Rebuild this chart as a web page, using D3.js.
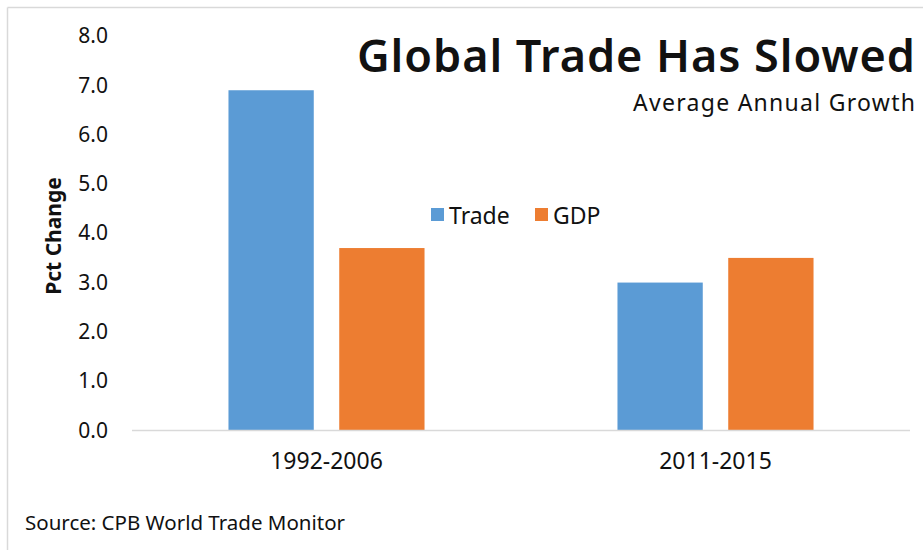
<!DOCTYPE html>
<html>
<head>
<meta charset="utf-8">
<script src="https://cdn.jsdelivr.net/npm/d3@7"></script>
<style>
  html, body { margin: 0; padding: 0; background: #fff; }
  svg text { font-family: "Noto Sans", "DejaVu Sans", sans-serif; fill: #111; }
</style>
</head>
<body>
<div id="chart"></div>
<script>
// ── Data ──────────────────────────────────────────────────────────────────
const PERIODS = ["1992-2006", "2011-2015"];
const SERIES = ["Trade", "GDP"];
const TRADE = [6.9, 3.0];
const GDP = [3.7, 3.5];
const Y_TICKS = [0, 1, 2, 3, 4, 5, 6, 7, 8];

const COLORS = { Trade: "#5b9bd5", GDP: "#ed7d31" };

const rows = PERIODS.map((p, i) => ({ period: p, Trade: TRADE[i], GDP: GDP[i] }));

// ── Layout ────────────────────────────────────────────────────────────────
const W = 923, H = 550;
const plot = { left: 132, right: 910, top: 36, bottom: 430.5 };

const svg = d3.select("#chart").append("svg")
    .attr("width", W).attr("height", H);

// frame lines (top + left only)
svg.append("line").attr("x1", 7.5).attr("x2", W).attr("y1", 7.5).attr("y2", 7.5)
    .attr("stroke", "#d9d9d9").attr("stroke-width", 1.5);
svg.append("line").attr("x1", 7.5).attr("x2", 7.5).attr("y1", 7.5).attr("y2", H)
    .attr("stroke", "#d9d9d9").attr("stroke-width", 1.5);

// ── Scales ────────────────────────────────────────────────────────────────
const x0 = d3.scaleBand().domain(PERIODS).range([plot.left, plot.right])
    .paddingInner(0.496).paddingOuter(0.248);
const x1 = d3.scaleBand().domain(SERIES).range([0, x0.bandwidth()])
    .paddingInner(0.23);
const y = d3.scaleLinear().domain([0, 8]).range([plot.bottom, plot.top]);

// ── Y axis labels ─────────────────────────────────────────────────────────
const yAxis = svg.append("g")
    .attr("transform", `translate(108,0)`)
    .call(d3.axisLeft(y).tickValues(Y_TICKS).tickFormat(d3.format(".1f")).tickSize(0).tickPadding(0));
yAxis.select(".domain").remove();
yAxis.selectAll("text")
    .attr("font-size", "21px")
    .style("font-family", "'Noto Sans', sans-serif")
    .attr("fill", "#111");

svg.append("text")
    .attr("transform", `translate(61,236) rotate(-90)`)
    .attr("text-anchor", "middle")
    .attr("font-size", "21px")
    .attr("font-weight", "bold")
    .text("Pct Change");

// ── Bars ──────────────────────────────────────────────────────────────────
const groups = svg.append("g").selectAll("g")
    .data(rows).join("g")
    .attr("transform", d => `translate(${x0(d.period)},0)`);

groups.selectAll("rect")
    .data(d => SERIES.map(s => ({ key: s, value: d[s] })))
    .join("rect")
    .attr("x", d => x1(d.key))
    .attr("y", d => y(d.value))
    .attr("width", x1.bandwidth())
    .attr("height", d => y(0) - y(d.value))
    .attr("fill", d => COLORS[d.key]);

// baseline
svg.append("line")
    .attr("x1", plot.left).attr("x2", plot.right)
    .attr("y1", y(0)).attr("y2", y(0))
    .attr("stroke", "#d9d9d9").attr("stroke-width", 1.5);

// ── X axis labels ─────────────────────────────────────────────────────────
const xAxis = svg.append("g")
    .attr("transform", `translate(0,${y(0) + 22})`)
    .call(d3.axisBottom(x0).tickSize(0).tickPadding(0));
xAxis.select(".domain").remove();
xAxis.selectAll("text")
    .attr("font-size", "23px")
    .attr("dy", "0.71em")
    .style("font-family", "'Noto Sans', sans-serif")
    .attr("fill", "#111");

// ── Legend ────────────────────────────────────────────────────────────────
const legendItems = [
    { key: "Trade", x: 431 },
    { key: "GDP", x: 535 },
];
const legend = svg.append("g");
legendItems.forEach(it => {
    legend.append("rect")
        .attr("x", it.x).attr("y", 208)
        .attr("width", 13).attr("height", 13)
        .attr("fill", COLORS[it.key]);
    legend.append("text")
        .attr("x", it.x + 18).attr("y", 215)
        .attr("dominant-baseline", "central")
        .attr("font-size", "23px")
        .text(it.key);
});

// ── Titles ────────────────────────────────────────────────────────────────
svg.append("text")
    .attr("x", 915).attr("y", 72)
    .attr("text-anchor", "end")
    .attr("font-size", "45px")
    .attr("font-weight", 600)
    .attr("textLength", 558)
    .attr("lengthAdjust", "spacing")
    .attr("fill", "#000")
    .text("Global Trade Has Slowed");

svg.append("text")
    .attr("x", 915).attr("y", 111)
    .attr("text-anchor", "end")
    .attr("font-size", "23px")
    .attr("textLength", 282)
    .attr("lengthAdjust", "spacing")
    .text("Average Annual Growth");

svg.append("text")
    .attr("x", 25).attr("y", 530)
    .attr("font-size", "20.5px")
    .attr("fill", "#333")
    .text("Source: CPB World Trade Monitor");
</script>
</body>
</html>
